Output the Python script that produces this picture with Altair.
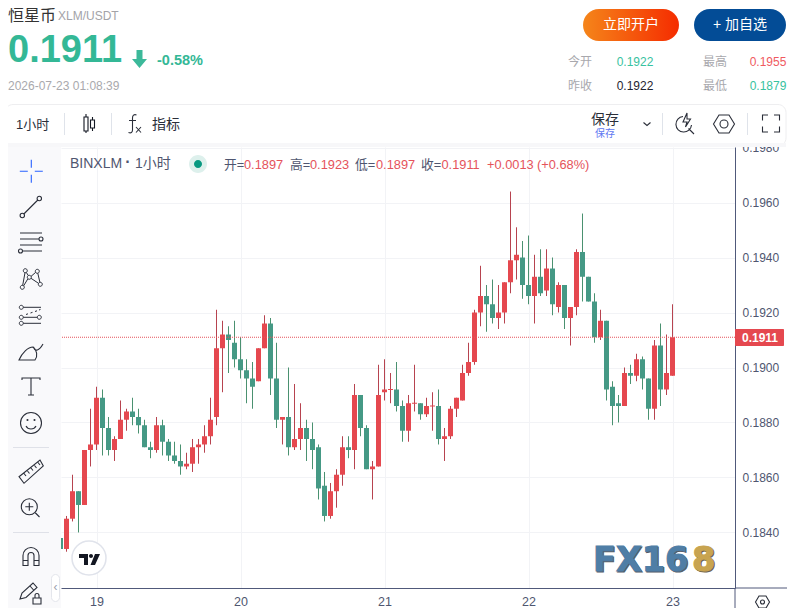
import altair as alt
import pandas as pd

# ---------- data (hourly XLM/USDT candles) ----------
opens = [0.1838,0.1834,0.1845,0.1855,0.1850,0.1870,0.1872,0.1889,0.1878,0.1870,0.1874,0.1881,0.1884,0.1882,0.1879,0.1871,
         0.1870,0.1879,0.1873,0.1868,0.1866,0.1864,0.1865,0.1871,0.1872,0.1875,0.1882,0.1907,0.1912,0.1909,0.1903,0.1899,
         0.1896,0.1895,0.1907,0.1916,0.1896,0.1881,0.1882,0.1871,0.1874,0.1878,0.1874,0.1871,0.1857,0.1846,0.1855,0.1861,
         0.1871,0.1870,0.1890,0.1878,0.1863,0.1864,0.1891,0.1892,0.1892,0.1886,0.1877,0.1887,0.1887,0.1883,0.1886,0.1886,
         0.1874,0.1875,0.1885,0.1888,0.1898,0.1902,0.1920,0.1926,0.1923,0.1918,0.1920,0.1931,0.1939,0.1940,0.1930,0.1926,
         0.1933,0.1928,0.1936,0.1922,0.1930,0.1918,0.1922,0.1942,0.1933,0.1924,0.1911,0.1917,0.1893,0.1887,0.1886,0.1898,
         0.1897,0.1903,0.1896,0.1885,0.1908,0.1892,0.1897]
highs = [0.1838,0.1846,0.1861,0.1855,0.1870,0.1885,0.1893,0.1892,0.1882,0.1875,0.1888,0.1885,0.1889,0.1885,0.1881,0.1873,
         0.1882,0.1881,0.1874,0.1873,0.1872,0.1869,0.1874,0.1874,0.1879,0.1889,0.1921,0.1917,0.1915,0.1917,0.1911,0.1903,
         0.1902,0.1907,0.1919,0.1918,0.1909,0.1882,0.1900,0.1894,0.1887,0.1881,0.1880,0.1872,0.1862,0.1858,0.1863,0.1875,
         0.1875,0.1894,0.1890,0.1879,0.1866,0.1901,0.1903,0.1898,0.1902,0.1888,0.1890,0.1901,0.1887,0.1889,0.1891,0.1892,
         0.1878,0.1886,0.1889,0.1901,0.1909,0.1921,0.1937,0.1930,0.1932,0.1930,0.1931,0.1964,0.1951,0.1946,0.1948,0.1941,
         0.1943,0.1943,0.1940,0.1931,0.1930,0.1922,0.1943,0.1956,0.1933,0.1927,0.1921,0.1917,0.1895,0.1890,0.1900,0.1901,
         0.1905,0.1904,0.1896,0.1910,0.1916,0.1912,0.1923]
lows = [0.1834,0.1833,0.1844,0.1840,0.1850,0.1864,0.1870,0.1868,0.1868,0.1866,0.1874,0.1877,0.1879,0.1876,0.1871,0.1867,
        0.1869,0.1868,0.1866,0.1865,0.1861,0.1863,0.1862,0.1865,0.1869,0.1872,0.1879,0.1891,0.1898,0.1900,0.1896,0.1887,
        0.1885,0.1895,0.1907,0.1890,0.1878,0.1872,0.1868,0.1870,0.1870,0.1866,0.1863,0.1852,0.1844,0.1845,0.1849,0.1857,
        0.1867,0.1863,0.1875,0.1863,0.1852,0.1864,0.1888,0.1887,0.1884,0.1873,0.1873,0.1884,0.1881,0.1882,0.1877,0.1872,
        0.1866,0.1874,0.1882,0.1888,0.1897,0.1901,0.1915,0.1913,0.1916,0.1914,0.1916,0.1927,0.1932,0.1925,0.1923,0.1916,
        0.1926,0.1926,0.1919,0.1920,0.1914,0.1908,0.1919,0.1924,0.1924,0.1909,0.1910,0.1888,0.1879,0.1880,0.1886,0.1894,
        0.1895,0.1892,0.1881,0.1881,0.1886,0.1890,0.1897]
closes = [0.1834,0.1845,0.1855,0.1850,0.1870,0.1872,0.1889,0.1878,0.1870,0.1874,0.1881,0.1884,0.1882,0.1879,0.1871,0.1870,
          0.1879,0.1873,0.1868,0.1866,0.1864,0.1865,0.1871,0.1872,0.1875,0.1881,0.1907,0.1912,0.1910,0.1903,0.1899,0.1896,
          0.1893,0.1907,0.1916,0.1896,0.1881,0.1882,0.1871,0.1874,0.1878,0.1874,0.1870,0.1856,0.1846,0.1855,0.1861,0.1871,
          0.1870,0.1890,0.1878,0.1863,0.1864,0.1890,0.1892,0.1892,0.1886,0.1877,0.1887,0.1887,0.1883,0.1886,0.1886,0.1874,
          0.1875,0.1885,0.1889,0.1898,0.1902,0.1920,0.1926,0.1923,0.1918,0.1920,0.1931,0.1939,0.1941,0.1930,0.1926,0.1933,
          0.1927,0.1936,0.1923,0.1930,0.1918,0.1922,0.1942,0.1933,0.1924,0.1911,0.1917,0.1892,0.1886,0.1886,0.1898,0.1897,
          0.1903,0.1896,0.1885,0.1908,0.1892,0.1898,0.1911]
price_ticks = [0.1840,0.1860,0.1880,0.1900,0.1920,0.1940,0.1960,0.1980]
day_ticks = [19,20,21,22,23]

times = pd.date_range("2026-07-18T18:00:00Z", periods=len(opens), freq="h").strftime("%Y-%m-%dT%H:%M:%SZ")
df = pd.DataFrame({"time":list(times),"open":opens,"high":highs,"low":lows,"close":closes})

# ---------- style ----------
SANS = "Liberation Sans, Arial, Noto Sans CJK SC"
UP, UPW = "#e5484f", "#b7434f"
DOWN, DOWNW = "#459985", "#4a9170"
INK = "#2a2e39"
AXIS = "#50597a"
LABEL = "#4f5670"
TEAL = "#34b896"
RED = "#e5535b"
PX, PY = 61, 147          # page position of the plot's corner
one = pd.DataFrame({"a":[0]})
layers = []

def text(s,x,y,size=12,color=INK,align="left",weight="normal",font=SANS,thick=0):
    kw = {"stroke":color,"strokeWidth":thick} if thick else {}
    layers.append(alt.Chart(one).mark_text(text=s,align=align,baseline="middle",fontSize=size,color=color,
        fontWeight=weight,font=font,**kw).encode(x=alt.value(x-PX),y=alt.value(y-PY)))

def rect(x,y,x2,y2,fill,stroke=None,r=0):
    kw = {"fill":fill}
    if stroke: kw.update(stroke=stroke,strokeWidth=1)
    if r: kw["cornerRadius"]=r
    layers.append(alt.Chart(one).mark_rect(**kw).encode(x=alt.value(x-PX),x2=alt.value(x2-PX),y=alt.value(y-PY),y2=alt.value(y2-PY)))

def rule(x,y,x2,y2,color):
    layers.append(alt.Chart(one).mark_rule(color=color,strokeWidth=1).encode(x=alt.value(x-PX),x2=alt.value(x2-PX),y=alt.value(y-PY),y2=alt.value(y2-PY)))

def icon(path,x,y,color=INK,fill=False,width=1.1):
    if fill:
        m = alt.Chart(one).mark_point(shape=path,size=4,filled=True,fill=color,opacity=1,strokeWidth=0)
    else:
        m = alt.Chart(one).mark_point(shape=path,size=4,filled=False,stroke=color,strokeWidth=width,opacity=1)
    layers.append(m.encode(x=alt.value(x-PX),y=alt.value(y-PY)))

def ring(cx,cy,r):
    return f"M {cx-r} {cy} A {r} {r} 0 1 0 {cx+r} {cy} A {r} {r} 0 1 0 {cx-r} {cy} Z "

# ---------- candles ----------
x_scale = alt.Scale(type="utc",padding=0,domain=[alt.DateTime(year=2026,month=7,date=18,hours=18,minutes=5,utc=True),
                                       alt.DateTime(year=2026,month=7,date=23,hours=10,minutes=25,utc=True)])
x_axis = alt.Axis(values=[alt.DateTime(year=2026,month=7,date=d,utc=True) for d in day_ticks],format="%-d",
        grid=True,gridColor="#f2f3f6",tickSize=0,labelPadding=7,labelFont=SANS,labelFontSize=12.5,labelColor=LABEL,
        domainColor=AXIS,domainWidth=1,labelOverlap=False,labelFlush=False,title=None)
y_scale = alt.Scale(domain=[0.18198,0.19802],nice=False,zero=False)
y_axis = alt.Axis(orient="right",values=price_ticks,format=".4f",grid=True,gridColor="#f2f3f6",tickSize=0,labelPadding=7,
        labelFont=SANS,labelFontSize=12,labelColor=LABEL,domainColor=AXIS,domainWidth=1,labelOverlap=False,labelFlush=False,title=None)
X = lambda: alt.X("time:T",scale=x_scale,axis=x_axis)
Y = lambda f: alt.Y(f,scale=y_scale,axis=y_axis)
wick_col = alt.condition("datum.close >= datum.open",alt.value(UPW),alt.value(DOWNW))
body_col = alt.condition("datum.close >= datum.open",alt.value(UP),alt.value(DOWN))

base = alt.Chart(df)
layers.append(base.mark_rule(strokeWidth=1,clip=True).encode(x=X(),y=Y("low:Q"),y2="high:Q",color=wick_col))
layers.append(base.mark_bar(size=5,clip=True).encode(x=X(),y=Y("open:Q"),y2="close:Q",color=body_col))
layers.append(base.transform_filter("datum.open == datum.close").mark_tick(orient="horizontal",size=5,thickness=1,color=UP,opacity=1,clip=True)
              .encode(x=X(),y=Y("close:Q")))
layers.append(alt.Chart(pd.DataFrame({"last":[closes[-1]]})).mark_rule(color=RED,strokeWidth=1,strokeDash=[1,1]).encode(y=Y("last:Q")))

# ---------- price tag & axis extensions ----------
rect(735,329,784,346,UP,r=1)
text("0.1911",760,338,12,"#ffffff","center","bold")
rule(735,588,787,588,AXIS)
rule(735,588,735,608,AXIS)
icon("M -7 0 L -3.5 -6 L 3.5 -6 L 7 0 L 3.5 6 L -3.5 6 Z "+ring(0,0,2),762.5,602,INK)

# ---------- top toolbar ----------
rect(5,104.5,786,146,"#ffffff","#eeeef0",8)
rect(5,143,786,147,"#f7f7f9")
text("1小时",16,125,13,INK)
rule(64.5,113,64.5,135,"#dfe3ea")
icon("M -4.5 -7 H -0.5 V 7 H -4.5 Z M -2.5 -10 V -7 M -2.5 7 V 9 M 2 -4 H 6 V 4 H 2 Z M 4 -7 V -4 M 4 4 V 7",88.5,124,"#131722")
rule(111.5,113,111.5,135,"#dfe3ea")
icon("M 2.5 -9 C 0 -10 -1.5 -8.5 -1.5 -6 V 6 C -1.5 8.5 -3 9.5 -5.5 8.5 M -5 -3.5 H 2 M 2 3 L 7 8.5 M 7 3 L 2 8.5",134,124,INK)
text("指标",152,125,14,INK)
text("保存",605,120,14,INK,"center")
text("保存",605,133.5,10,"#5f78f2","center")
icon("M -3.5 -1.5 L 0 1.5 L 3.5 -1.5",647,124,INK)
rule(662.5,113,662.5,135,"#dfe3ea")
icon("M -1 -7.5 A 7.8 7.8 0 1 0 7.5 1 M 4.5 4.5 L 10 10 M 3 -11 L -1 -2 L 3 -2 L 1.5 3 L 6.5 -5 L 3 -5 Z",684,124,INK)
icon("M -10.5 0 L -5 -9 L 5 -9 L 10.5 0 L 5 9 L -5 9 Z "+ring(0,0,4),724,124,INK)
rule(747.5,113,747.5,135,"#dfe3ea")
icon("M -8.5 -3 V -8.5 H -3 M 3 -8.5 H 8.5 V -3 M 8.5 3 V 8.5 H 3 M -3 8.5 H -8.5 V 3",771,123.5,INK)

# ---------- left toolbar ----------
rect(5,147,61,608,"#f9f9fb")
icon("M -11.5 0 H -3.5 M 3.5 0 H 11.5 M 0 -11.5 V -3.5 M 0 3.5 V 11.5",31.3,171.3,"#2962ff")
icon(ring(-8.7,8.5,2.2)+ring(8.3,-8.5,2.2)+"M -7.2 7 L 6.8 -7",31,207,INK)
icon("M -11 -9 H 11 M -11 -3 H 8 M -11 3 H 11 M -8 9 H 11 "+ring(10,-3,2)+ring(-10.5,9,2),31,242,INK)
icon(ring(-8.7,9.3,2)+ring(-5.7,-7.3,2)+ring(-1.7,-0.7,2)+ring(6.3,-6.7,2)+ring(9.3,6.3,2)+
     "M -8.3 7.3 L -6 -5.3 M -4.7 -5.6 L -2.7 -2.4 M 0 -1.6 L 4.6 -5.6 M 6.8 -4.7 L 8.9 4.3 M -7.4 7.9 L -3.2 0.9 M 0 0.3 L 7.5 5.3 ",31,278,INK,width=1)
icon(ring(-9.7,-8.7,2)+ring(-9.7,1.3,2)+ring(-9.7,7.3,2)+ring(8.3,1.3,2)+
     "M -7.7 -8.7 H 10 M -7.7 1.3 H 6.3 M -7.7 7.3 H 10",31,316,INK,width=1)
icon("M -5 -1.5 L -3 -2.2 M -0.5 -3 L 1.5 -3.7 M 4 -4.5 L 6 -5.2 M 8 -6 L 9.5 -6.6",31,316,INK,width=1)
icon("M -12 8 H 4 C 7 4 6 -2 2 -5 C -3 -5 -9 1 -12 8 Z M 2.5 -5 C 4 0 8 -1 12 -8",31,352,INK)
icon("M -9 -7 V -9 H 9 V -7 M 0 -9 V 8 M -3 8 H 3",31,387,INK)
icon(ring(0,0,10.5)+"M -5 3 C -3 7 3 7 5 3",31,423,INK)
icon(ring(-3.5,-3,0.5)+ring(3.5,-3,0.5),31,423,INK)
rule(13,447.5,49,447.5,"#dfe1e8")
icon("M -12 4.7 L 9 -12 L 12.3 -6 L -7 11.3 Z M -7 1.5 L -5 4 M -3.5 -1 L -1.5 1.5 M 0 -4 L 2 -1.5 M 3.5 -6.5 L 5.5 -4 M 7 -9.5 L 9 -7",31,472,INK)
icon(ring(-0.7,-0.3,8)+"M 5 5.5 L 9.5 10 M -4.7 -0.3 H 3.3 M -0.7 -4.3 V 3.7",30,507,INK)
rule(13,532.5,49,532.5,"#dfe1e8")
icon("M -8 9 V -1 A 8 8 0 0 1 8 -1 V 9 H 3 V -1 A 3 3 0 0 0 -3 -1 V 9 Z M -8 4 H -3 M 3 4 H 8",31,556.5,INK)
icon("M -11 7 L -9 1 L 2 -9 L 6 -4.5 L -5 5.5 Z M -1 -6 L 3 -1.5",31,592,INK)
icon("M 2 6 H 10 V 12 H 2 Z M 4 6 V 3.5 A 2 2 0 0 1 8 3.5 V 6",31,592,INK)
rect(51.5,574.5,59.5,601.5,"#ffffff","#e4e6ec",4)
text("‹",55.5,587,12,"#9aa0ad","center")

# ---------- header ----------
text("恒星币",8,16,16,"#333333")
text("XLM/USDT",58,16,12,"#a3a3a8")
text("0.1911",8,51,38,TEAL,weight="bold")
icon("M -3 -9 H 3 V 0 H 7.5 L 0 9 L -7.5 0 H -3 Z",139.5,59,"#3cb99a",fill=True)
text("-0.58%",157,60.5,14.5,TEAL,weight="bold")
text("2026-07-23 01:08:39",8,86,12,"#a9a9ad")

grad = alt.LinearGradient(gradient="linear",x1=0,x2=1,y1=0,y2=0,
    stops=[alt.GradientStop(color="#f5851a",offset=0),alt.GradientStop(color="#f52c00",offset=1)])
rect(583,9,679,41,grad,r=16)
text("立即开户",631,25,14,"#ffffff","center")
rect(694,9,786,41,"#034c96",r=16)
text("+ 加自选",740,25,14,"#ffffff","center")

text("今开",568,62,12,"#a8a8ad")
text("0.1922",635,62,12,"#38c2a0","center")
text("最高",703,62,12,"#a8a8ad")
text("0.1955",768,62,12,"#f05a5f","center")
text("昨收",568,86,12,"#a8a8ad")
text("0.1922",635,86,12,"#1f2430","center")
text("最低",703,86,12,"#a8a8ad")
text("0.1879",768,86,12,"#38c2a0","center")

# ---------- legend row ----------
text("BINXLM",70,164,14,LABEL)
text("·",128,162,16,LABEL,"center","bold")
text("1小时",135,164,14,LABEL)
icon(ring(0,0,9),198,164,"#ddf0ec",fill=True)
icon(ring(0,0,4),198,164,"#089981",fill=True)
for s,x,c in [("开=",224,LABEL),("0.1897",244,RED),("高=",290,LABEL),("0.1923",310,RED),("低=",355,LABEL),("0.1897",376,RED),
              ("收=",421,LABEL),("0.1911",441.5,RED),("+0.0013",487,RED),("(+0.68%)",537,RED)]:
    text(s,x,165,12.8,c)

# ---------- watermarks ----------
icon(ring(0,0,17),89,558,"#ffffff",fill=True)
icon(ring(0,0,17),89,558,"#e0e3eb",width=1.5)
icon("M -10 -4 H -1 V 7 H -5 V 0 H -10 Z M 4 -2 A 2 2 0 1 1 0 -2 A 2 2 0 1 1 4 -2 Z M 6 -4 H 11 L 6 7 H 1.5 Z",89,558,"#131722",fill=True)
BOLD = "DejaVu Sans"
text("FX16",594,562,33.5,"#555b66",weight="bold",font=BOLD,thick=1)
text("8",693,562,33.5,"#6b6250",weight="bold",font=BOLD,thick=1)
text("FX16",593,561,33.5,"#4f7ea6",weight="bold",font=BOLD,thick=1)
text("8",692,561,33.5,"#c8a450",weight="bold",font=BOLD,thick=1)

chart = alt.layer(*layers).properties(
    width=674,height=441,
    padding={"left":53,"top":139,"right":52,"bottom":20},
    autosize=alt.AutoSizeParams(type="none"),
    background="#ffffff",
).configure_view(stroke=None)

chart.save("out.html",embed_options={"renderer":"svg","actions":False})
